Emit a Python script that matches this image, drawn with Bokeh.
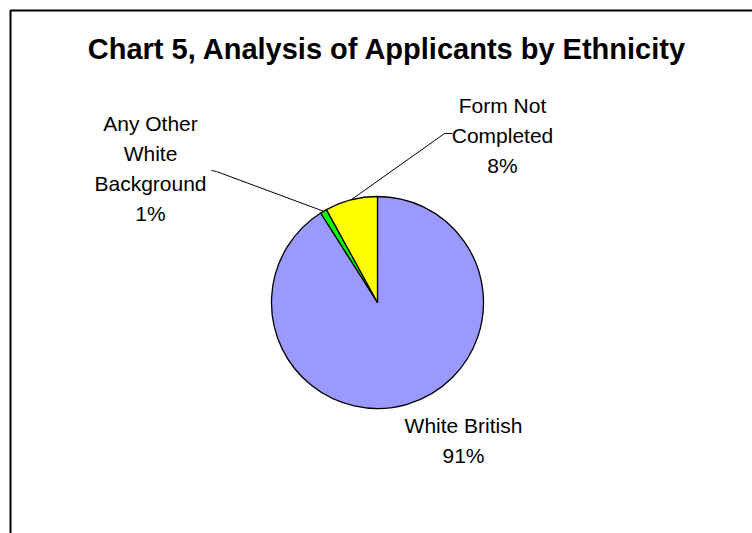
import numpy as np
from bokeh.plotting import figure
from bokeh.models import Range1d, ColumnDataSource
from bokeh.embed import file_html
from bokeh.resources import INLINE
from bokeh.core.properties import value

# ---- data ----
title_text = "Chart 5, Analysis of Applicants by Ethnicity"
categories = ["White British", "Any Other White Background", "Form Not Completed"]
percents = [91, 1, 8]
label_lines = [["White British"], ["Any Other", "White", "Background"], ["Form Not", "Completed"]]
colors = ["#9999FF", "#00FF00", "#FFFF00"]

# ---- layout (pixel space) ----
W, H = 752, 533
CX, CY, R = 377, 302, 106
FONT = "Liberation Sans"

def Y(py):
    return H - py

p = figure(width=W, height=H, x_range=Range1d(0, W), y_range=Range1d(0, H),
           output_backend="svg", toolbar_location=None, min_border=0,
           x_axis_type=None, y_axis_type=None)
p.grid.visible = False
p.outline_line_color = None
p.background_fill_color = "white"
p.border_fill_color = "white"

# chart-area frame (right/bottom edges fall outside the window)
p.quad(left=[10], right=[W + 20], bottom=[Y(H + 20)], top=[Y(10)],
       fill_color=None, line_color="black", line_width=2)

# pie: Excel starts at 12 o'clock and goes clockwise
vals = np.array(percents, dtype=float)
frac = vals / vals.sum()
cum = np.concatenate([[0], np.cumsum(frac)])
start = np.pi / 2 - 2 * np.pi * cum[1:]
end = np.pi / 2 - 2 * np.pi * cum[:-1]
mid = (start + end) / 2
src = ColumnDataSource(dict(start=start, end=end, color=colors, cat=categories))
p.wedge(x=CX, y=Y(CY), radius=R, start_angle="start", end_angle="end",
        fill_color="color", line_color="black", line_width=1.3, source=src)

# data labels (line centres)
label_pos = [(463, 425), (150, 123), (502, 105)]
LS = 30
tx, ty, tt = [], [], []
for lines, pct, (lx, ly) in zip(label_lines, percents, label_pos):
    for k, s in enumerate(lines + [f"{pct}%"]):
        tx.append(lx); ty.append(Y(ly + k * LS)); tt.append(s)
p.text(x=tx, y=ty, text=tt, text_font=value(FONT), text_font_size="21px",
       text_align="center", text_baseline="middle", text_color="black")

# leader lines for the two small slices
leaders = {1: [(211, 170), (216, 171)], 2: [(452, 133), (444, 133)]}
for i, pts in leaders.items():
    ex = CX + R * np.cos(mid[i])
    ey = CY - R * np.sin(mid[i])
    xs = [pt[0] for pt in pts] + [ex]
    ys = [Y(pt[1]) for pt in pts] + [Y(ey)]
    p.line(xs, ys, line_color="black", line_width=1)

# title
p.text(x=[387], y=[Y(48)], text=[title_text], text_font=value(FONT),
       text_font_size="29px", text_font_style="bold", text_align="center",
       text_baseline="middle", text_color="black")

open("out.html", "w").write(file_html(p, INLINE))
